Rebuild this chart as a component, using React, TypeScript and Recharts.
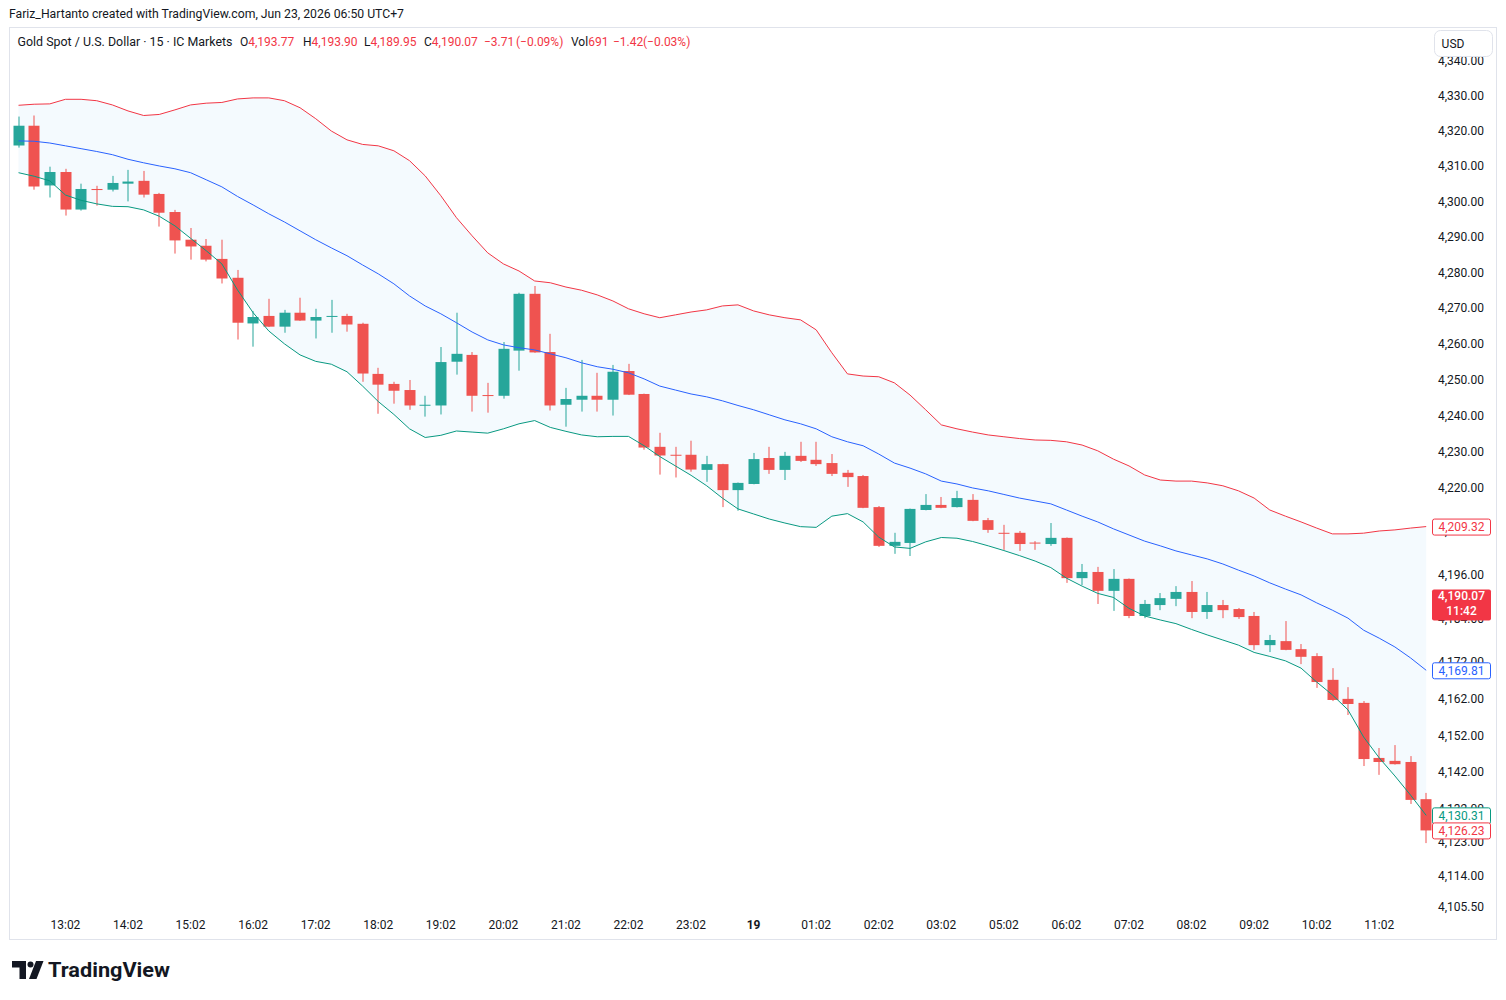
import React from 'react'
import { ComposedChart, Bar, Line, Area, XAxis, YAxis, ReferenceLine } from 'recharts'

const times = [
  '12:17', '12:32', '12:47',
  '13:02', '13:17', '13:32', '13:47', '14:02', '14:17', '14:32', '14:47',
  '15:02', '15:17', '15:32', '15:47', '16:02', '16:17', '16:32', '16:47',
  '17:02', '17:17', '17:32', '17:47', '18:02', '18:17', '18:32', '18:47',
  '19:02', '19:17', '19:32', '19:47', '20:02', '20:17', '20:32', '20:47',
  '21:02', '21:17', '21:32', '21:47', '22:02', '22:17', '22:32', '22:47',
  '23:02', '23:17', '23:32', '23:47', '00:02', '00:17', '00:32', '00:47',
  '01:02', '01:17', '01:32', '01:47', '02:02', '02:17', '02:32', '02:47',
  '03:02', '03:17', '03:32', '03:47', '05:02', '05:17', '05:32', '05:47',
  '06:02', '06:17', '06:32', '06:47', '07:02', '07:17', '07:32', '07:47',
  '08:02', '08:17', '08:32', '08:47', '09:02', '09:17', '09:32', '09:47',
  '10:02', '10:17', '10:32', '10:47', '11:02', '11:17', '11:32', '11:47',
]

const timeTicks = ['13:02', '14:02', '15:02', '16:02', '17:02', '18:02', '19:02', '20:02', '21:02', '22:02', '23:02',
  '00:02', '01:02', '02:02', '03:02', '05:02', '06:02', '07:02', '08:02', '09:02', '10:02', '11:02']

const priceTicks = [4105.5, 4114, 4123, 4132, 4142, 4152, 4162, 4172, 4184, 4196, 4208, 4220, 4230, 4240, 4250,
  4260, 4270, 4280, 4290, 4300, 4310, 4320, 4330, 4340]

const open = [
  4315.9, 4321.5, 4304.6, 4308.4, 4297.8, 4303.6, 4303.4, 4305.1, 4305.9, 4302.2,
  4297.1, 4289.3, 4287.6, 4283.9, 4278.6, 4265.8, 4267.9, 4264.9, 4268.8, 4266.6,
  4267.7, 4267.9, 4265.7, 4251.7, 4248.9, 4247.2, 4242.9, 4242.9, 4255.1, 4257.0,
  4245.8, 4245.6, 4258.2, 4274.1, 4257.8, 4243.1, 4244.5, 4245.6, 4244.5, 4252.5,
  4246.1, 4231.4, 4229.2, 4229.2, 4225.0, 4226.6, 4219.4, 4221.1, 4228.3, 4225.0,
  4228.9, 4227.8, 4226.9, 4224.2, 4223.3, 4214.7, 4204.0, 4204.8, 4213.9, 4215.3,
  4214.7, 4216.7, 4211.1, 4207.6, 4207.6, 4204.9, 4204.5, 4206.2, 4195.1, 4196.8,
  4191.6, 4194.9, 4184.7, 4187.7, 4189.4, 4191.3, 4185.8, 4187.7, 4186.6, 4184.7,
  4176.7, 4177.8, 4175.6, 4173.7, 4167.2, 4162.0, 4160.9, 4145.9, 4145.1, 4144.8,
  4134.7,
]
const high = [
  4324.1, 4324.4, 4309.9, 4309.3, 4305.1, 4304.5, 4307.3, 4309.0, 4308.7, 4302.5,
  4297.7, 4292.6, 4289.5, 4289.3, 4280.8, 4269.3, 4272.7, 4269.6, 4273.0, 4269.9,
  4272.4, 4268.5, 4266.0, 4253.4, 4249.5, 4250.0, 4245.6, 4259.2, 4268.8, 4257.8,
  4249.2, 4260.6, 4274.4, 4276.3, 4262.9, 4247.8, 4255.6, 4252.0, 4254.2, 4254.5,
  4246.2, 4235.3, 4231.4, 4233.1, 4228.9, 4226.7, 4221.5, 4229.7, 4231.4, 4230.0,
  4232.8, 4232.8, 4229.4, 4225.0, 4223.6, 4215.0, 4207.6, 4214.3, 4218.3, 4217.5,
  4219.2, 4218.3, 4211.7, 4209.8, 4208.1, 4205.3, 4210.3, 4206.3, 4199.0, 4198.2,
  4197.6, 4195.0, 4189.1, 4191.0, 4192.9, 4194.3, 4191.3, 4189.1, 4186.9, 4185.8,
  4179.5, 4183.3, 4177.0, 4174.5, 4170.4, 4165.2, 4161.4, 4148.6, 4149.4, 4146.4,
  4136.4,
]
const low = [
  4315.3, 4303.4, 4301.2, 4296.1, 4297.5, 4298.9, 4302.9, 4300.1, 4301.2, 4293.0,
  4285.4, 4283.7, 4283.2, 4277.0, 4261.3, 4259.3, 4264.8, 4263.2, 4266.5, 4261.6,
  4263.2, 4263.5, 4249.5, 4240.6, 4243.4, 4241.7, 4239.8, 4240.4, 4251.5, 4241.2,
  4240.9, 4244.8, 4252.6, 4257.6, 4241.5, 4237.0, 4241.2, 4241.2, 4240.1, 4245.8,
  4230.6, 4223.7, 4222.9, 4224.5, 4221.7, 4214.7, 4213.7, 4221.0, 4223.9, 4222.2,
  4227.2, 4226.1, 4223.3, 4220.3, 4214.4, 4203.7, 4201.8, 4201.2, 4213.8, 4214.4,
  4214.6, 4210.8, 4207.6, 4202.9, 4202.6, 4202.9, 4204.0, 4193.8, 4193.2, 4188.0,
  4186.1, 4184.1, 4184.1, 4186.3, 4187.4, 4184.1, 4183.9, 4184.1, 4183.9, 4175.4,
  4174.8, 4175.3, 4171.5, 4165.0, 4161.4, 4157.6, 4143.7, 4141.3, 4144.1, 4133.4,
  4122.8,
]
const close = [
  4321.5, 4304.3, 4308.4, 4297.8, 4303.6, 4303.3, 4305.3, 4305.7, 4302.0, 4296.9,
  4289.1, 4287.4, 4283.7, 4278.4, 4266.0, 4267.6, 4264.9, 4268.8, 4266.6, 4267.6,
  4267.9, 4265.5, 4251.8, 4248.7, 4247.0, 4242.9, 4243.1, 4255.0, 4257.3, 4245.6,
  4245.6, 4258.7, 4274.1, 4257.7, 4242.9, 4244.7, 4245.6, 4244.5, 4252.3, 4245.9,
  4231.2, 4229.0, 4229.0, 4225.1, 4226.6, 4219.4, 4221.4, 4228.0, 4225.0, 4228.9,
  4227.5, 4226.6, 4223.9, 4223.0, 4214.5, 4204.0, 4205.1, 4214.2, 4215.3, 4214.5,
  4217.2, 4210.9, 4208.4, 4207.4, 4204.5, 4204.7, 4206.2, 4195.1, 4196.8, 4191.6,
  4194.9, 4184.7, 4188.0, 4189.6, 4191.3, 4185.8, 4187.7, 4186.3, 4184.4, 4176.7,
  4178.1, 4175.4, 4173.5, 4166.6, 4161.7, 4160.6, 4145.6, 4144.8, 4144.2, 4134.5,
  4126.23,
]

// Bollinger bands (20, 2)
const upper = [
  4327.3, 4327.6, 4327.7, 4329.0, 4329.0, 4328.6, 4327.4, 4325.7, 4324.4, 4324.7,
  4326.0, 4327.4, 4327.9, 4328.1, 4329.1, 4329.4, 4329.4, 4328.6, 4326.6, 4323.5,
  4320.0, 4317.5, 4316.2, 4315.8, 4314.4, 4311.6, 4307.3, 4301.7, 4295.5, 4290.4,
  4285.6, 4282.5, 4280.5, 4277.7, 4277.2, 4276.0, 4275.1, 4273.8, 4272.1, 4269.9,
  4268.5, 4267.4, 4268.2, 4269.0, 4269.6, 4270.7, 4271.0, 4269.3, 4268.2, 4267.4,
  4266.8, 4264.0, 4257.6, 4251.7, 4251.1, 4250.9, 4249.2, 4245.8, 4241.7, 4237.5,
  4236.4, 4235.5, 4234.7, 4234.2, 4233.7, 4233.3, 4233.2, 4232.8, 4231.9, 4230.3,
  4228.0, 4226.1, 4223.6, 4222.2, 4221.9, 4221.9, 4221.4, 4220.6, 4219.2, 4217.2,
  4213.9, 4212.2, 4210.6, 4208.9, 4207.3, 4207.3, 4207.5, 4208.1, 4208.4, 4208.9,
  4209.32,
]
const basis = [
  4317.2, 4317.1, 4316.6, 4315.8, 4315.0, 4314.2, 4313.3, 4312.0, 4311.0, 4310.1,
  4309.3, 4308.2, 4306.2, 4304.2, 4301.5, 4299.1, 4296.6, 4294.3, 4291.8, 4289.3,
  4287.0, 4284.8, 4282.2, 4279.7, 4276.9, 4273.5, 4270.7, 4268.5, 4266.0, 4263.4,
  4261.2, 4259.8, 4259.0, 4258.4, 4257.3, 4256.2, 4254.8, 4253.7, 4253.0, 4252.0,
  4250.3, 4248.3, 4247.2, 4246.1, 4245.3, 4244.2, 4242.9, 4241.7, 4240.3, 4238.9,
  4237.8, 4236.4, 4234.2, 4232.8, 4231.7, 4229.4, 4226.9, 4225.5, 4223.9, 4221.9,
  4221.1, 4220.0, 4219.2, 4218.2, 4217.2, 4216.4, 4215.6, 4213.9, 4212.2, 4210.6,
  4208.7, 4207.0, 4205.3, 4204.0, 4202.6, 4201.5, 4200.4, 4199.0, 4197.3, 4195.7,
  4193.8, 4192.1, 4190.5, 4188.3, 4186.3, 4184.1, 4180.8, 4178.6, 4176.2, 4173.2,
  4169.81,
]
const lower = [
  4308.2, 4307.2, 4305.9, 4301.9, 4300.4, 4299.4, 4298.7, 4298.6, 4297.7, 4295.9,
  4293.2, 4289.7, 4286.2, 4282.5, 4275.2, 4268.8, 4263.7, 4260.1, 4257.0, 4255.2,
  4254.4, 4252.3, 4248.3, 4244.0, 4240.4, 4236.4, 4234.0, 4234.6, 4235.8, 4235.5,
  4235.2, 4236.4, 4237.8, 4238.7, 4236.8, 4235.7, 4234.7, 4234.2, 4234.3, 4234.3,
  4231.7, 4228.7, 4226.1, 4223.5, 4220.6, 4217.2, 4214.2, 4212.8, 4211.4, 4210.3,
  4209.3, 4209.1, 4212.2, 4212.9, 4210.6, 4206.4, 4203.7, 4203.3, 4205.1, 4206.3,
  4206.1, 4205.2, 4204.0, 4202.7, 4201.3, 4199.8, 4198.0, 4195.1, 4192.9, 4190.9,
  4189.8, 4186.8, 4184.7, 4183.6, 4182.6, 4181.0, 4179.5, 4178.1, 4176.7, 4174.7,
  4173.6, 4172.4, 4170.4, 4166.6, 4163.1, 4159.0, 4151.6, 4145.9, 4141.0, 4135.8,
  4130.31,
]

const rows = times.map((t, i) => ({
  t,
  o: open[i],
  h: high[i],
  l: low[i],
  c: close[i],
  upper: upper[i],
  basis: basis[i],
  lower: lower[i],
}))

const W = 1506
const H = 1000
const UP = '#26a69a'
const DOWN = '#ef5350'
const RED = '#f23645'
const INK = '#131722'
const FONT = "Roboto, 'Noto Sans', 'DejaVu Sans', sans-serif"

const fmt = (v: number) => v.toLocaleString('en-US', { minimumFractionDigits: 2, maximumFractionDigits: 2 })

function Candle(props: any) {
  const { x, y, width, height, payload } = props
  if (!payload || width == null) return null
  const top = Math.min(y, y + height)
  const bot = Math.max(y, y + height)
  const lh = Math.log(payload.h)
  const ll = Math.log(payload.l)
  const span = lh - ll || 1e-9
  // log axis: pixel is linear in log(price) between the bar ends
  const py = (p: number) => top + ((bot - top) * (lh - Math.log(p))) / span
  const cx = x + width / 2
  const col = payload.c >= payload.o ? UP : DOWN
  const bt = py(Math.max(payload.o, payload.c))
  const bb = py(Math.min(payload.o, payload.c))
  return (
    <g>
      <rect x={Math.round(cx) - 0.5} y={top} width={1} height={bot - top} fill={col} />
      <rect x={Math.round(cx) - 5.5} y={bt} width={11} height={Math.max(1, bb - bt)} fill={col} />
    </g>
  )
}

// price scale labels, drawn as reference-line labels so the price tags can sit on top of them
function TickLabel(props: any) {
  const { viewBox, value } = props
  if (!viewBox) return null
  return (
    <text x={1438} y={viewBox.y + 4} fontSize={12} fill={INK} fontFamily={FONT}>
      {fmt(value)}
    </text>
  )
}

function XTick({ x, payload }: any) {
  const v = payload.value
  if (!timeTicks.includes(v)) return <g />
  const day = v === '00:02'
  return (
    <text x={x} y={929} textAnchor="middle" fontSize={12} fill={INK} fontFamily={FONT} fontWeight={day ? 700 : 400}>
      {day ? '19' : v}
    </text>
  )
}

function Tag(props: any) {
  const { viewBox, text, color, filled, sub } = props
  if (!viewBox) return null
  const y = viewBox.y
  const x = 1432
  if (filled) {
    return (
      <g>
        <rect x={x} y={y - 7} width={59} height={31} rx={2} fill={color} />
        <text x={x + 29.5} y={y + 4} textAnchor="middle" fontSize={12} fontWeight={500} fill="#fff" fontFamily={FONT}>{text}</text>
        <text x={x + 29.5} y={y + 18.5} textAnchor="middle" fontSize={12} fontWeight={500} fill="#fff" fontFamily={FONT}>{sub}</text>
      </g>
    )
  }
  return (
    <g>
      <rect x={x + 0.5} y={y - 7.5} width={58} height={16} rx={2} fill="#fff" stroke={color} />
      <text x={x + 29.5} y={y + 4.5} textAnchor="middle" fontSize={12} fill={color} fontFamily={FONT}>{text}</text>
    </g>
  )
}

export default function App() {
  return (
    <div style={{ position: 'absolute', left: 0, top: 0, width: W, height: H, background: '#fff', overflow: 'hidden' }}>
      <svg width={W} height={H} style={{ position: 'absolute', left: 0, top: 0 }}>
        <text x={9} y={18} fontSize={12} fill={INK} fontFamily={FONT} textLength={395} lengthAdjust="spacingAndGlyphs">
          Fariz_Hartanto created with TradingView.com, Jun 23, 2026 06:50 UTC+7
        </text>
        <rect x={9.5} y={27.5} width={1487} height={912} fill="none" stroke="#e0e3eb" />
      </svg>
      <div style={{ position: 'absolute', left: 0, top: 0 }}>
        <ComposedChart width={W} height={H} data={rows} margin={{ top: 28, right: 0, bottom: 60, left: 10.7 }} barCategoryGap={0}>
          <XAxis dataKey="t" height={28} interval={0} tick={<XTick />} tickLine={false} axisLine={false} />
          <YAxis
            orientation="right"
            width={72}
            scale="log"
            domain={[4104.2, 4349.3]}
            allowDataOverflow
            tick={false}
            tickLine={false}
            axisLine={false}
          />
          <Area dataKey={(d: any) => [d.lower, d.upper]} fill="#2196f3" fillOpacity={0.05} stroke="none" isAnimationActive={false} />
          <Line dataKey="upper" stroke={RED} strokeWidth={1} dot={false} isAnimationActive={false} />
          <Line dataKey="basis" stroke="#2962ff" strokeWidth={1} dot={false} isAnimationActive={false} />
          <Line dataKey="lower" stroke="#089981" strokeWidth={1} dot={false} isAnimationActive={false} />
          <Bar dataKey={(d: any) => [d.l, d.h]} shape={<Candle />} isAnimationActive={false} />
          {priceTicks.map((v) => (
            <ReferenceLine key={v} y={v} stroke="none" ifOverflow="visible" label={<TickLabel value={v} />} />
          ))}
          <ReferenceLine y={4209.32} stroke="none" ifOverflow="visible" label={<Tag text="4,209.32" color={RED} />} />
          <ReferenceLine y={4190.07} stroke="none" ifOverflow="visible" label={<Tag text="4,190.07" sub="11:42" color={RED} filled />} />
          <ReferenceLine y={4169.81} stroke="none" ifOverflow="visible" label={<Tag text="4,169.81" color="#2962ff" />} />
          <ReferenceLine y={4130.31} stroke="none" ifOverflow="visible" label={<Tag text="4,130.31" color="#089981" />} />
          <ReferenceLine y={4126.23} stroke="none" ifOverflow="visible" label={<Tag text="4,126.23" color={RED} />} />
        </ComposedChart>
      </div>
      <svg width={W} height={H} style={{ position: 'absolute', left: 0, top: 0, pointerEvents: 'none' }}>
        <g fontSize={12} fontFamily={FONT}>
          <text x={17.5} y={46} fill={INK} textLength={215} lengthAdjust="spacingAndGlyphs">Gold Spot / U.S. Dollar · 15 · IC Markets</text>
          <text x={240} y={46} fill={INK}>O<tspan fill={RED}>4,193.77</tspan></text>
          <text x={303} y={46} fill={INK}>H<tspan fill={RED}>4,193.90</tspan></text>
          <text x={364} y={46} fill={INK}>L<tspan fill={RED}>4,189.95</tspan></text>
          <text x={424} y={46} fill={INK}>C<tspan fill={RED}>4,190.07</tspan></text>
          <text x={484} y={46} fill={RED}>−3.71</text>
          <text x={516} y={46} fill={RED}>(−0.09%)</text>
          <text x={571} y={46} fill={INK}>Vol<tspan fill={RED}>691</tspan></text>
          <text x={613} y={46} fill={RED}>−1.42</text>
          <text x={643} y={46} fill={RED}>(−0.03%)</text>
        </g>
        <rect x={1434.5} y={30.5} width={58} height={26} rx={6} fill="#fff" stroke="#e0e3eb" />
        <text x={1453} y={48} textAnchor="middle" fontSize={12} fill={INK} fontFamily={FONT}>USD</text>
        <g fill="#131722">
          <path d="M12,961 H26 V979 H19.5 V967.5 H12 Z" />
          <circle cx={30.5} cy={964.5} r={3} />
          <path d="M36,961 H43.5 L36.5,979 H29 Z" />
        </g>
        <text x={48} y={977} fontSize={20} fontWeight={700} fill={INK} fontFamily={FONT} textLength={122} lengthAdjust="spacingAndGlyphs">
          TradingView
        </text>
      </svg>
    </div>
  )
}
